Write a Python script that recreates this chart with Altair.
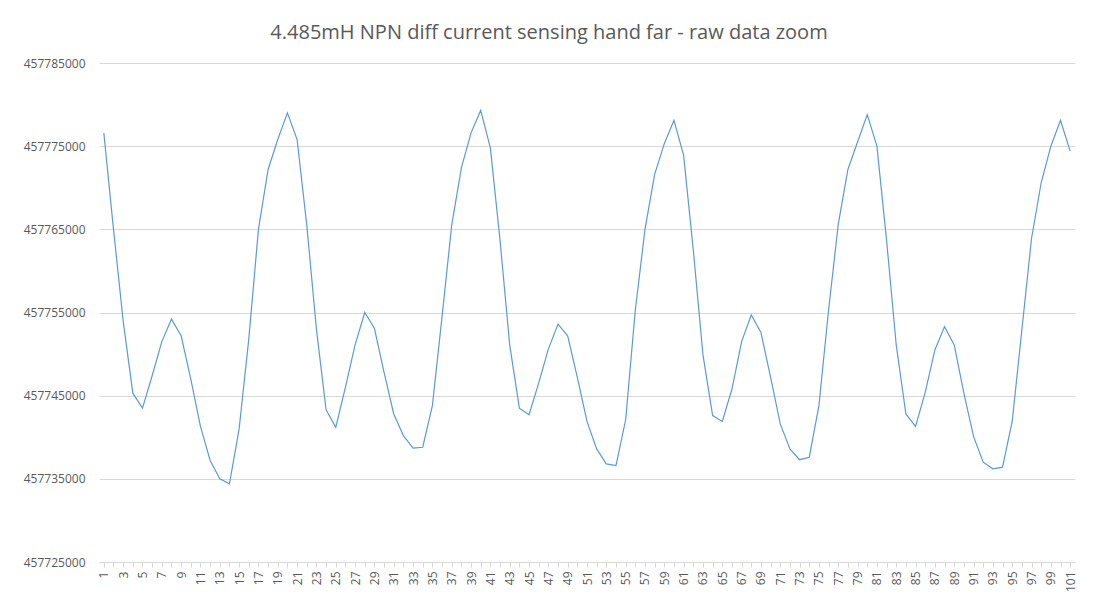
import altair as alt
import pandas as pd

idx = list(range(1, 102))
vals_k = [776600,765000,754000,745300,743500,747400,751500,754200,752200,747000,
741300,737200,735000,734400,741000,751800,765000,772200,775800,779000,
775800,765500,753000,743300,741200,746000,751100,755000,753100,747800,
742800,740200,738700,738800,743800,754500,765500,772400,776600,779300,
774800,763700,751100,743500,742700,746500,750600,753600,752200,747200,
741900,738600,736800,736600,742100,755300,765000,771600,775300,778100,
773900,762500,749900,742600,741900,745800,751500,754700,752600,747200,
741600,738600,737300,737600,743800,755300,765600,772200,775500,778800,
775000,763700,751100,742800,741300,745400,750500,753300,751100,745300,
740100,737000,736200,736400,741900,752900,763900,770600,775000,778100,774400]
values = [457000000 + v for v in vals_k]

df = pd.DataFrame({"i": idx, "v": values})

chart = alt.Chart(df).mark_line(color="#5B9BD5", strokeWidth=1.2).encode(
    x=alt.X("i:O", title=None, scale=alt.Scale(paddingOuter=0.5),
            axis=alt.Axis(labelAngle=-90, labelExpr="datum.value % 2 == 1 ? datum.label : ''",
                          labelColor="#595959", labelFontSize=12, labelFont="Open Sans",
                          domainColor="#D9D9D9", tickColor="#D9D9D9", grid=False,
                          labelPadding=4)),
    y=alt.Y("v:Q", title=None,
            scale=alt.Scale(domain=[457725000, 457785000], nice=False, zero=False),
            axis=alt.Axis(values=list(range(457725000, 457785001, 10000)), format="d",
                          labelColor="#595959", labelFontSize=12, labelFont="Open Sans",
                          domain=False, ticks=False, gridColor="#D9D9D9", labelPadding=14)),
).properties(
    width=976, height=499,
    title=alt.TitleParams("4.485mH  NPN diff current sensing hand far - raw data zoom",
                          fontSize=20, font="Open Sans", fontWeight="normal",
                          color="#595959", anchor="middle", offset=14, dx=-38),
    autosize=alt.AutoSizeParams(type="none"),
    padding={"left": 91, "top": 55, "right": 10, "bottom": 41},
).configure_view(stroke=None)

chart.save("out.html", embed_options={"renderer": "svg", "actions": False})
